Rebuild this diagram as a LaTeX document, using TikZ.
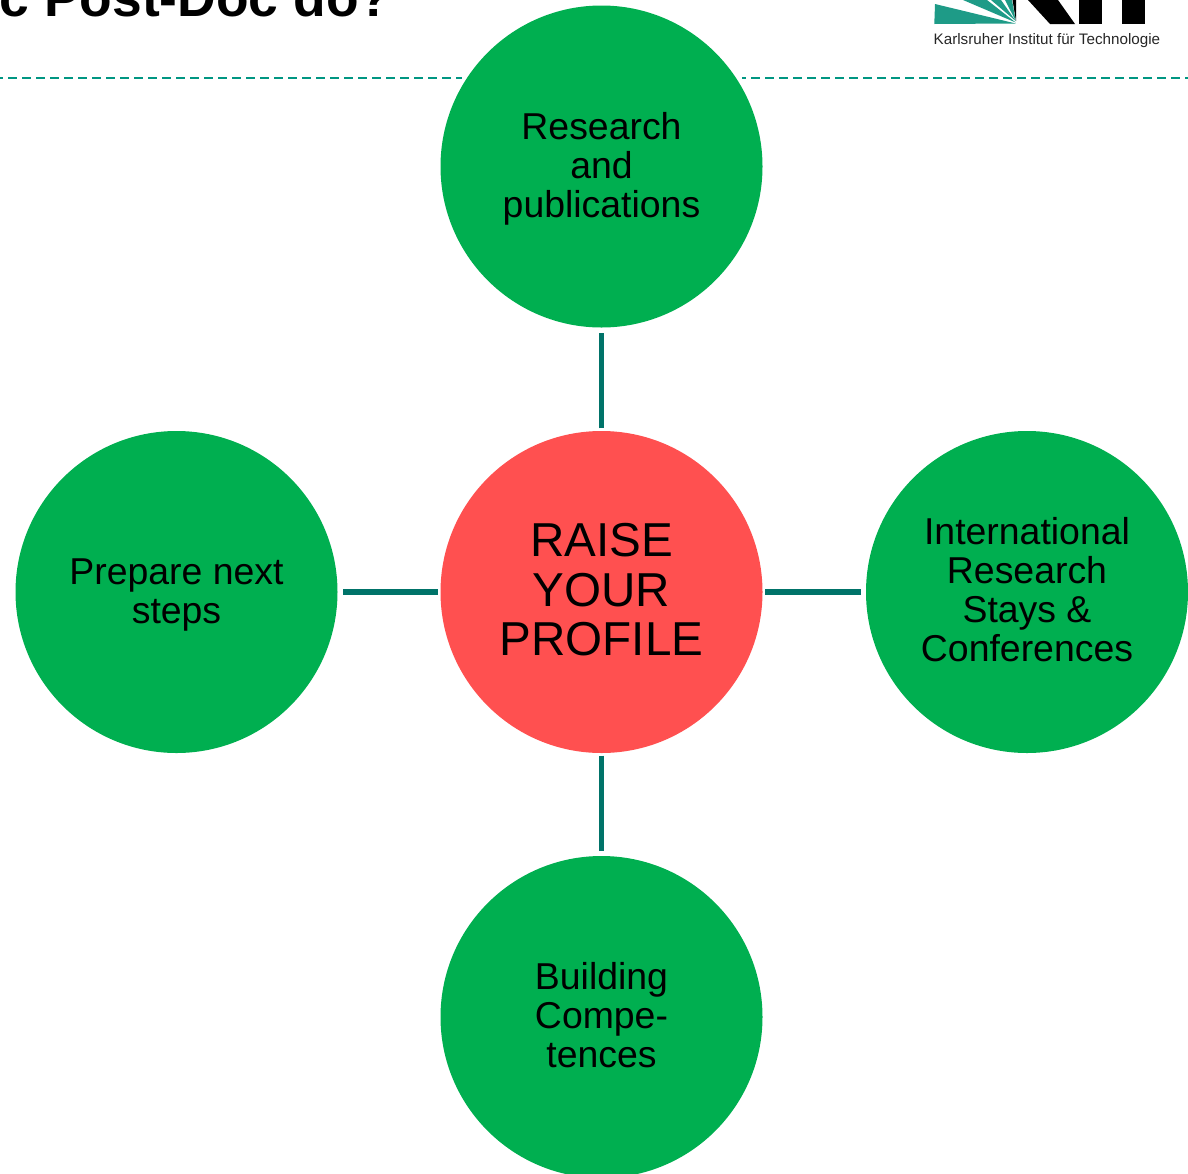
\documentclass[tikz,border=0pt]{standalone}
\usepackage{fontspec}
\setmainfont{Liberation Sans}
\definecolor{kitgreen}{RGB}{0,175,80}
\definecolor{kitred}{RGB}{255,80,80}
\definecolor{linkteal}{RGB}{0,115,105}
\definecolor{dashteal}{RGB}{0,150,130}
\definecolor{logoteal}{RGB}{30,155,135}
\tikzset{
  outer/.style={circle,fill=kitgreen,minimum size=322pt,inner sep=0pt},
  centre/.style={circle,fill=kitred,minimum size=322pt,inner sep=0pt},
  outertext/.style={inner sep=0pt,align=center,font=\fontsize{37.4}{39}\selectfont,text=black},
  centretext/.style={inner sep=0pt,align=center,font=\fontsize{47.6}{49.4}\selectfont,text=black},
  link/.style={draw=linkteal,line width=5.3pt,shorten <=2.5pt,shorten >=5pt},
  rule/.style={draw=dashteal,line width=2.5pt,dash pattern=on 9pt off 5pt}
}
\begin{document}
\begin{tikzpicture}[x=1pt,y=-1pt]
\useasboundingbox (0,0) rectangle (1188,1173);
\clip (0,0) rectangle (1188,1173);
\coordinate (ruleA) at (0,78);
\coordinate (ruleB) at (462,78);
\coordinate (ruleC) at (742,78);
\coordinate (ruleD) at (1188,78);
\draw[rule,dash phase=6pt] (ruleA) -- (ruleB);
\draw[rule,dash phase=5pt] (ruleC) -- (ruleD);
\node[anchor=base west,font=\fontsize{53.4}{53.4}\selectfont\bfseries,inner sep=0pt] (title) at (-0.5,16.5) {c Post-Doc do?};
\fill[logoteal] (934.3,24) -- (935,4) -- (1015.7,23.5) -- cycle;
\fill[logoteal] (963,0) -- (1015.7,22.5) -- (987,0) -- cycle;
\fill[logoteal] (991,0) -- (1015.7,21) -- (1001,0) -- cycle;
\fill[logoteal] (1005,0) -- (1015.7,21) -- (1012,0) -- cycle;
\fill[black] (1012.5,0) -- (1016,21) -- (1016,0) -- cycle;
\fill[black] (1028,0) -- (1050,24) -- (1075,24) -- (1058,0) -- cycle;
\fill[black] (1079,0) rectangle (1102,24);
\fill[black] (1122,0) rectangle (1145,24);
\node[anchor=base west,font=\fontsize{15.2}{15.2}\selectfont,inner sep=0pt,text=black!85] (logotext) at (933.5,44) {Karlsruher Institut für Technologie};
\node[centre] (c) at (601.5,592) {};
\node[outer] (n) at (601.5,166.5) {};
\node[outer] (e) at (1027,592) {};
\node[outer] (s) at (601.5,1017) {};
\node[outer] (w) at (176.5,592) {};
\node[centretext] (ct) at (601.5,590) {RAISE\\YOUR\\PROFILE};
\node[outertext] (nt) at (601.5,168.5) {Research\\and\\publications};
\node[outertext] (et) at (1027,590) {International\\Research\\Stays \&\\Conferences};
\node[outertext] (st) at (601.5,1015.5) {Building\\Compe-\\tences};
\node[outertext] (wt) at (176.5,595) {Prepare next\\steps};
\draw[link] (c.north) -- (n.south);
\draw[link] (c.east) -- (e.west);
\draw[link] (c.south) -- (s.north);
\draw[link] (c.west) -- (w.east);
\end{tikzpicture}
\end{document}
